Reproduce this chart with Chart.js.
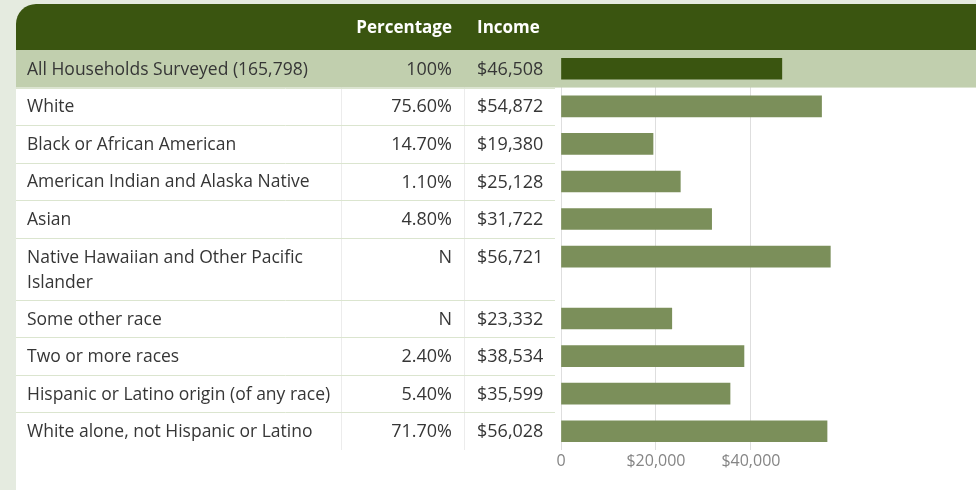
<!DOCTYPE html>
<html><head><meta charset="utf-8">
<script src="https://cdn.jsdelivr.net/npm/chart.js@4/dist/chart.umd.min.js"></script>
<style>
html,body{margin:0;padding:0;background:#e5ebe0;}
#wrap{position:relative;width:976px;height:490px;}
canvas{display:block;}
</style></head><body>
<div id="wrap"><canvas id="c" width="976" height="490"></canvas></div>
<script>
const categories = [
  'All Households Surveyed (165,798)',
  'White',
  'Black or African American',
  'American Indian and Alaska Native',
  'Asian',
  ['Native Hawaiian and Other Pacific', 'Islander'],
  'Some other race',
  'Two or more races',
  'Hispanic or Latino origin (of any race)',
  'White alone, not Hispanic or Latino'
];
const percentages = ['100%', '75.60%', '14.70%', '1.10%', '4.80%', 'N', 'N', '2.40%', '5.40%', '71.70%'];
const incomes = [46508, 54872, 19380, 25128, 31722, 56721, 23332, 38534, 35599, 56028];
const xTicks = [0, 20000, 40000];
const columnHeaders = ['Percentage', 'Income'];

const FONT = '"Open Sans", "Noto Sans", sans-serif';
const DARK = '#3a5510';
const OLIVE = '#7b8f5a';
const HILITE = '#c1cfae';
const TEXT = '#363636';

// row layout derived from number of text lines in each label
const lineCounts = categories.map(c => Array.isArray(c) ? c.length : 1);
const rowUnits = lineCounts.map(n => 1 + (n - 1) * 0.65);
const rowTops = [];
let acc = 0;
rowUnits.forEach(u => { rowTops.push(acc); acc += u; });
const totalUnits = acc;
const points = incomes.map((v, i) => ({ x: v, y: rowTops[i] + 0.5 }));

const fmtMoney = v => '$' + v.toLocaleString('en-US');

const tablePlugin = {
  id: 'table',
  beforeDraw(chart) {
    const ctx = chart.ctx, ca = chart.chartArea, ys = chart.scales.y;
    const W = chart.width, H = chart.height;
    const left = 16, top = 4, r = 20;
    ctx.save();
    ctx.fillStyle = '#ffffff';
    ctx.beginPath();
    ctx.moveTo(left, H);
    ctx.lineTo(left, top + r);
    ctx.arcTo(left, top, left + r, top, r);
    ctx.lineTo(W, top);
    ctx.lineTo(W, H);
    ctx.closePath();
    ctx.fill();
    ctx.fillStyle = DARK;
    ctx.beginPath();
    ctx.moveTo(left, ca.top);
    ctx.lineTo(left, top + r);
    ctx.arcTo(left, top, left + r, top, r);
    ctx.lineTo(W, top);
    ctx.lineTo(W, ca.top);
    ctx.closePath();
    ctx.fill();
    const r0b = ys.getPixelForValue(rowTops[0] + rowUnits[0]);
    ctx.strokeStyle = '#ececec';
    ctx.lineWidth = 1;
    [341.5, 464.5].forEach(x => {
      ctx.beginPath(); ctx.moveTo(x, r0b); ctx.lineTo(x, ca.bottom); ctx.stroke();
    });
    ctx.strokeStyle = '#dbe5cf';
    for (let i = 1; i < categories.length; i++) {
      const y = Math.round(ys.getPixelForValue(rowTops[i])) + 0.5;
      ctx.beginPath(); ctx.moveTo(left, y); ctx.lineTo(555, y); ctx.stroke();
    }
    ctx.restore();
  },
  beforeDatasetsDraw(chart) {
    // highlighted first row painted over the grid, under the bars
    const ctx = chart.ctx, ys = chart.scales.y;
    const r0t = ys.getPixelForValue(rowTops[0]);
    const r0b = ys.getPixelForValue(rowTops[0] + rowUnits[0]);
    ctx.save();
    ctx.fillStyle = HILITE;
    ctx.fillRect(16, r0t, chart.width - 16, r0b - r0t);
    ctx.restore();
  },
  afterDraw(chart) {
    const ctx = chart.ctx, ca = chart.chartArea, ys = chart.scales.y;
    const unitPx = Math.abs(ys.getPixelForValue(1) - ys.getPixelForValue(0));
    ctx.save();
    ctx.textBaseline = 'middle';
    ctx.fillStyle = '#ffffff';
    ctx.font = 'bold 17px ' + FONT;
    const hy = (4 + ca.top) / 2 + 1;
    ctx.textAlign = 'right';
    ctx.fillText(columnHeaders[0], 452, hy);
    ctx.textAlign = 'left';
    ctx.fillText(columnHeaders[1], 477, hy);
    ctx.fillStyle = TEXT;
    categories.forEach((c, i) => {
      const y0 = ys.getPixelForValue(rowTops[i] + 0.5) + 1;
      const lines = Array.isArray(c) ? c : [c];
      ctx.font = '17.5px ' + FONT;
      ctx.textAlign = 'left';
      lines.forEach((ln, k) => ctx.fillText(ln, 27, y0 + k * unitPx * 0.69));
      ctx.font = '18px ' + FONT;
      ctx.textAlign = 'right';
      ctx.fillText(percentages[i], 452, y0);
      ctx.textAlign = 'left';
      ctx.fillText(fmtMoney(incomes[i]), 477, y0);
    });
    ctx.restore();
  }
};

new Chart(document.getElementById('c'), {
  type: 'bar',
  data: {
    datasets: [{
      data: points,
      backgroundColor: incomes.map((v, i) => i === 0 ? DARK : OLIVE),
      borderWidth: 0,
      barThickness: 21
    }]
  },
  options: {
    indexAxis: 'y',
    responsive: false,
    animation: false,
    layout: { padding: { left: 561, top: 50, right: 0, bottom: 0 } },
    plugins: { legend: { display: false }, tooltip: { enabled: false } },
    scales: {
      y: { type: 'linear', min: 0, max: totalUnits, reverse: true, display: false, offset: false },
      x: {
        type: 'linear', min: 0, max: 87400, position: 'bottom',
        grid: { color: '#dedede', drawTicks: false },
        border: { display: false },
        afterBuildTicks: s => { s.ticks = xTicks.map(v => ({ value: v })); },
        afterFit: s => { s.height = 40; },
        ticks: {
          color: '#858585', padding: 2,
          font: { family: FONT, size: 16 },
          callback: v => v === 0 ? '0' : fmtMoney(v)
        }
      }
    }
  },
  plugins: [tablePlugin]
});
</script>
</body></html>
